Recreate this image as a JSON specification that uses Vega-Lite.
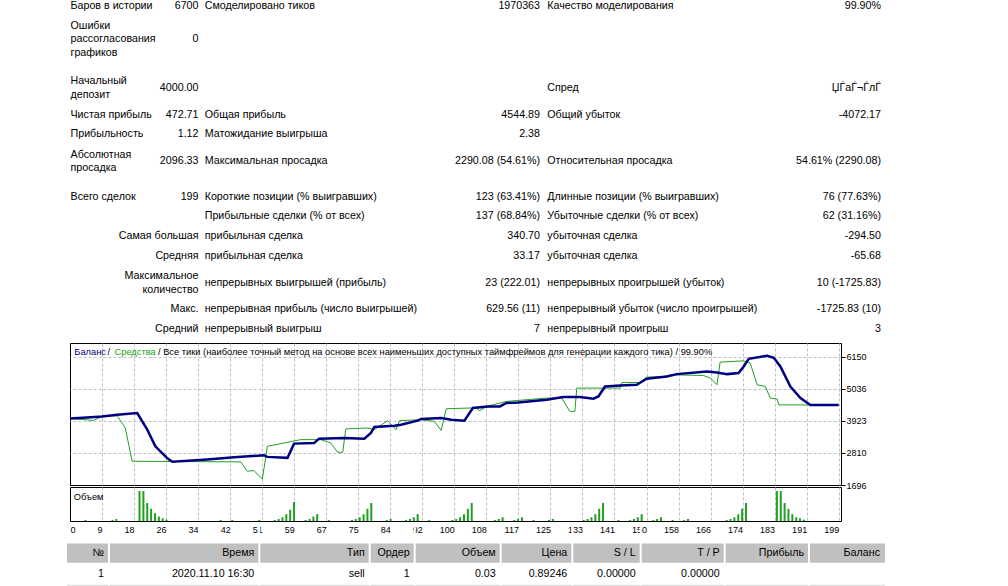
{
  "$schema": "https://vega.github.io/schema/vega-lite/v6.json",
  "background": "white",
  "padding": {"left": 64, "top": 0, "right": 0, "bottom": 0},
  "autosize": {"type": "pad"},
  "bounds": "flush",
  "spacing": 2,
  "config": {
    "font": "Liberation Sans",
    "view": {"stroke": null},
    "axis": {"labelFont": "Liberation Sans", "labelFontSize": 9, "labelColor": "#000000", "gridColor": "#c0c0c0", "gridDash": [3, 2], "gridWidth": 1, "domain": false, "ticks": false, "labelOverlap": false},
    "text": {"font": "Liberation Sans", "fontSize": 10.7, "color": "#000000", "baseline": "middle"}
  },
  "datasets": {
    "stats": [
      {"row": 1, "col": 1, "text": "Баров в истории"},
      {"row": 1, "col": 2, "text": "6700"},
      {"row": 1, "col": 3, "text": "Смоделировано тиков"},
      {"row": 1, "col": 4, "text": "1970363"},
      {"row": 1, "col": 5, "text": "Качество моделирования"},
      {"row": 1, "col": 6, "text": "99.90%"},
      {"row": 2, "col": 1, "text": "Ошибки\nрассогласования\nграфиков"},
      {"row": 2, "col": 2, "text": "0"},
      {"row": 3, "col": 1, "text": "Начальный\nдепозит"},
      {"row": 3, "col": 2, "text": "4000.00"},
      {"row": 3, "col": 5, "text": "Спред"},
      {"row": 3, "col": 6, "text": "ЏЃаЃ¬ЃлЃ"},
      {"row": 4, "col": 1, "text": "Чистая прибыль"},
      {"row": 4, "col": 2, "text": "472.71"},
      {"row": 4, "col": 3, "text": "Общая прибыль"},
      {"row": 4, "col": 4, "text": "4544.89"},
      {"row": 4, "col": 5, "text": "Общий убыток"},
      {"row": 4, "col": 6, "text": "-4072.17"},
      {"row": 5, "col": 1, "text": "Прибыльность"},
      {"row": 5, "col": 2, "text": "1.12"},
      {"row": 5, "col": 3, "text": "Матожидание выигрыша"},
      {"row": 5, "col": 4, "text": "2.38"},
      {"row": 6, "col": 1, "text": "Абсолютная\nпросадка"},
      {"row": 6, "col": 2, "text": "2096.33"},
      {"row": 6, "col": 3, "text": "Максимальная просадка"},
      {"row": 6, "col": 4, "text": "2290.08 (54.61%)"},
      {"row": 6, "col": 5, "text": "Относительная просадка"},
      {"row": 6, "col": 6, "text": "54.61% (2290.08)"},
      {"row": 7, "col": 1, "text": "Всего сделок"},
      {"row": 7, "col": 2, "text": "199"},
      {"row": 7, "col": 3, "text": "Короткие позиции (% выигравших)"},
      {"row": 7, "col": 4, "text": "123 (63.41%)"},
      {"row": 7, "col": 5, "text": "Длинные позиции (% выигравших)"},
      {"row": 7, "col": 6, "text": "76 (77.63%)"},
      {"row": 8, "col": 3, "text": "Прибыльные сделки (% от всех)"},
      {"row": 8, "col": 4, "text": "137 (68.84%)"},
      {"row": 8, "col": 5, "text": "Убыточные сделки (% от всех)"},
      {"row": 8, "col": 6, "text": "62 (31.16%)"},
      {"row": 9, "col": 2, "text": "Самая большая"},
      {"row": 9, "col": 3, "text": "прибыльная сделка"},
      {"row": 9, "col": 4, "text": "340.70"},
      {"row": 9, "col": 5, "text": "убыточная сделка"},
      {"row": 9, "col": 6, "text": "-294.50"},
      {"row": 10, "col": 2, "text": "Средняя"},
      {"row": 10, "col": 3, "text": "прибыльная сделка"},
      {"row": 10, "col": 4, "text": "33.17"},
      {"row": 10, "col": 5, "text": "убыточная сделка"},
      {"row": 10, "col": 6, "text": "-65.68"},
      {"row": 11, "col": 2, "text": "Максимальное\nколичество"},
      {"row": 11, "col": 3, "text": "непрерывных выигрышей (прибыль)"},
      {"row": 11, "col": 4, "text": "23 (222.01)"},
      {"row": 11, "col": 5, "text": "непрерывных проигрышей (убыток)"},
      {"row": 11, "col": 6, "text": "10 (-1725.83)"},
      {"row": 12, "col": 2, "text": "Макс."},
      {"row": 12, "col": 3, "text": "непрерывная прибыль (число выигрышей)"},
      {"row": 12, "col": 4, "text": "629.56 (11)"},
      {"row": 12, "col": 5, "text": "непрерывный убыток (число проигрышей)"},
      {"row": 12, "col": 6, "text": "-1725.83 (10)"},
      {"row": 13, "col": 2, "text": "Средний"},
      {"row": 13, "col": 3, "text": "непрерывный выигрыш"},
      {"row": 13, "col": 4, "text": "7"},
      {"row": 13, "col": 5, "text": "непрерывный проигрыш"},
      {"row": 13, "col": 6, "text": "3"}
    ],
    "curves": [
      {"series": "Средства", "trade": 0, "value": 4000},
      {"series": "Средства", "trade": 6.1, "value": 3937},
      {"series": "Средства", "trade": 8.3, "value": 4075},
      {"series": "Средства", "trade": 12.2, "value": 4099},
      {"series": "Средства", "trade": 14.3, "value": 3674},
      {"series": "Средства", "trade": 16.1, "value": 2519},
      {"series": "Средства", "trade": 44.2, "value": 2498},
      {"series": "Средства", "trade": 45.9, "value": 2173},
      {"series": "Средства", "trade": 47.6, "value": 2197},
      {"series": "Средства", "trade": 49.8, "value": 1903},
      {"series": "Средства", "trade": 51.1, "value": 3038},
      {"series": "Средства", "trade": 59.7, "value": 3269},
      {"series": "Средства", "trade": 64.9, "value": 3269},
      {"series": "Средства", "trade": 67.5, "value": 3155},
      {"series": "Средства", "trade": 69.3, "value": 2830},
      {"series": "Средства", "trade": 70.6, "value": 2830},
      {"series": "Средства", "trade": 71.4, "value": 3639},
      {"series": "Средства", "trade": 77.0, "value": 3674},
      {"series": "Средства", "trade": 78.8, "value": 3615},
      {"series": "Средства", "trade": 82.2, "value": 3926},
      {"series": "Средства", "trade": 84.4, "value": 3615},
      {"series": "Средства", "trade": 85.3, "value": 3926},
      {"series": "Средства", "trade": 90.9, "value": 3961},
      {"series": "Средства", "trade": 94.3, "value": 3902},
      {"series": "Средства", "trade": 96.1, "value": 3591},
      {"series": "Средства", "trade": 97.4, "value": 4341},
      {"series": "Средства", "trade": 103.8, "value": 4366},
      {"series": "Средства", "trade": 105.1, "value": 4366},
      {"series": "Средства", "trade": 106.1, "value": 4272},
      {"series": "Средства", "trade": 107.8, "value": 4421},
      {"series": "Средства", "trade": 113.0, "value": 4594},
      {"series": "Средства", "trade": 123.4, "value": 4711},
      {"series": "Средства", "trade": 127.3, "value": 4711},
      {"series": "Средства", "trade": 129.4, "value": 4248},
      {"series": "Средства", "trade": 130.7, "value": 4248},
      {"series": "Средства", "trade": 131.2, "value": 5057},
      {"series": "Средства", "trade": 142.4, "value": 5057},
      {"series": "Средства", "trade": 142.9, "value": 5251},
      {"series": "Средства", "trade": 147.6, "value": 5251},
      {"series": "Средства", "trade": 149.3, "value": 5437},
      {"series": "Средства", "trade": 153.6, "value": 5458},
      {"series": "Средства", "trade": 156.2, "value": 5517},
      {"series": "Средства", "trade": 164.0, "value": 5493},
      {"series": "Средства", "trade": 165.8, "value": 5403},
      {"series": "Средства", "trade": 167.5, "value": 5171},
      {"series": "Средства", "trade": 168.3, "value": 5956},
      {"series": "Средства", "trade": 174.4, "value": 6001},
      {"series": "Средства", "trade": 176.1, "value": 5922},
      {"series": "Средства", "trade": 177.9, "value": 5171},
      {"series": "Средства", "trade": 180.0, "value": 5113},
      {"series": "Средства", "trade": 181.3, "value": 4711},
      {"series": "Средства", "trade": 183.1, "value": 4677},
      {"series": "Средства", "trade": 183.5, "value": 4473},
      {"series": "Средства", "trade": 199, "value": 4473},
      {"series": "Баланс", "trade": 0, "value": 4000},
      {"series": "Баланс", "trade": 4.4, "value": 4040},
      {"series": "Баланс", "trade": 8.3, "value": 4075},
      {"series": "Баланс", "trade": 12.2, "value": 4134},
      {"series": "Баланс", "trade": 17.4, "value": 4193},
      {"series": "Баланс", "trade": 20.0, "value": 3615},
      {"series": "Баланс", "trade": 22.1, "value": 3038},
      {"series": "Баланс", "trade": 25.2, "value": 2620},
      {"series": "Баланс", "trade": 26.5, "value": 2500},
      {"series": "Баланс", "trade": 35.5, "value": 2578},
      {"series": "Баланс", "trade": 42.5, "value": 2657},
      {"series": "Баланс", "trade": 50.2, "value": 2727},
      {"series": "Баланс", "trade": 51.1, "value": 2671},
      {"series": "Баланс", "trade": 56.3, "value": 2637},
      {"series": "Баланс", "trade": 58.0, "value": 3131},
      {"series": "Баланс", "trade": 63.2, "value": 3155},
      {"series": "Баланс", "trade": 64.5, "value": 3304},
      {"series": "Баланс", "trade": 71.0, "value": 3328},
      {"series": "Баланс", "trade": 76.2, "value": 3304},
      {"series": "Баланс", "trade": 77.9, "value": 3501},
      {"series": "Баланс", "trade": 78.8, "value": 3709},
      {"series": "Баланс", "trade": 84.0, "value": 3754},
      {"series": "Баланс", "trade": 85.7, "value": 3788},
      {"series": "Баланс", "trade": 90.0, "value": 3926},
      {"series": "Баланс", "trade": 90.9, "value": 3985},
      {"series": "Баланс", "trade": 96.1, "value": 4020},
      {"series": "Баланс", "trade": 98.7, "value": 3961},
      {"series": "Баланс", "trade": 102.1, "value": 3926},
      {"series": "Баланс", "trade": 104.3, "value": 4366},
      {"series": "Баланс", "trade": 108.2, "value": 4421},
      {"series": "Баланс", "trade": 111.3, "value": 4421},
      {"series": "Баланс", "trade": 113.0, "value": 4539},
      {"series": "Баланс", "trade": 116.0, "value": 4559},
      {"series": "Баланс", "trade": 123.4, "value": 4653},
      {"series": "Баланс", "trade": 127.7, "value": 4746},
      {"series": "Баланс", "trade": 132.0, "value": 4746},
      {"series": "Баланс", "trade": 135.5, "value": 4687},
      {"series": "Баланс", "trade": 136.8, "value": 4767},
      {"series": "Баланс", "trade": 138.5, "value": 5113},
      {"series": "Баланс", "trade": 142.4, "value": 5147},
      {"series": "Баланс", "trade": 146.7, "value": 5171},
      {"series": "Баланс", "trade": 149.3, "value": 5379},
      {"series": "Баланс", "trade": 154.5, "value": 5458},
      {"series": "Баланс", "trade": 157.1, "value": 5541},
      {"series": "Баланс", "trade": 164.9, "value": 5631},
      {"series": "Баланс", "trade": 167.5, "value": 5597},
      {"series": "Баланс", "trade": 170.1, "value": 5541},
      {"series": "Баланс", "trade": 173.1, "value": 5576},
      {"series": "Баланс", "trade": 174.4, "value": 5804},
      {"series": "Баланс", "trade": 175.7, "value": 6070},
      {"series": "Баланс", "trade": 180.5, "value": 6180},
      {"series": "Баланс", "trade": 182.2, "value": 6110},
      {"series": "Баланс", "trade": 183.9, "value": 5804},
      {"series": "Баланс", "trade": 186.5, "value": 5113},
      {"series": "Баланс", "trade": 189.1, "value": 4711},
      {"series": "Баланс", "trade": 191.7, "value": 4473},
      {"series": "Баланс", "trade": 199, "value": 4473}
    ],
    "volumes": [
      {"trade": 4, "lots": 0.03},
      {"trade": 11, "lots": 0.03}, {"trade": 12, "lots": 0.06},
      {"trade": 18, "lots": 0.88}, {"trade": 19, "lots": 0.88}, {"trade": 20, "lots": 0.53}, {"trade": 21, "lots": 0.36}, {"trade": 22, "lots": 0.23}, {"trade": 23, "lots": 0.13}, {"trade": 24, "lots": 0.08}, {"trade": 25, "lots": 0.04},
      {"trade": 39, "lots": 0.03}, {"trade": 42, "lots": 0.03},
      {"trade": 49, "lots": 0.03},
      {"trade": 53, "lots": 0.03}, {"trade": 54, "lots": 0.06}, {"trade": 55, "lots": 0.11}, {"trade": 56, "lots": 0.2}, {"trade": 57, "lots": 0.33}, {"trade": 58, "lots": 0.56},
      {"trade": 61, "lots": 0.03}, {"trade": 62, "lots": 0.06}, {"trade": 63, "lots": 0.13}, {"trade": 64, "lots": 0.2},
      {"trade": 67, "lots": 0.03},
      {"trade": 73, "lots": 0.03}, {"trade": 74, "lots": 0.06}, {"trade": 75, "lots": 0.11}, {"trade": 76, "lots": 0.2}, {"trade": 77, "lots": 0.36}, {"trade": 78, "lots": 0.53},
      {"trade": 82, "lots": 0.03}, {"trade": 83, "lots": 0.06},
      {"trade": 87, "lots": 0.03}, {"trade": 88, "lots": 0.06}, {"trade": 89, "lots": 0.11}, {"trade": 90, "lots": 0.2},
      {"trade": 93, "lots": 0.03},
      {"trade": 99, "lots": 0.03}, {"trade": 100, "lots": 0.06}, {"trade": 101, "lots": 0.11}, {"trade": 102, "lots": 0.2}, {"trade": 103, "lots": 0.36}, {"trade": 104, "lots": 0.53},
      {"trade": 110, "lots": 0.03}, {"trade": 111, "lots": 0.06}, {"trade": 112, "lots": 0.11},
      {"trade": 115, "lots": 0.03}, {"trade": 116, "lots": 0.06}, {"trade": 117, "lots": 0.11},
      {"trade": 120, "lots": 0.03},
      {"trade": 124, "lots": 0.03}, {"trade": 125, "lots": 0.06},
      {"trade": 133, "lots": 0.03}, {"trade": 134, "lots": 0.06}, {"trade": 135, "lots": 0.11}, {"trade": 136, "lots": 0.2}, {"trade": 137, "lots": 0.36}, {"trade": 138, "lots": 0.53},
      {"trade": 142, "lots": 0.03},
      {"trade": 145, "lots": 0.03}, {"trade": 146, "lots": 0.06}, {"trade": 147, "lots": 0.11}, {"trade": 148, "lots": 0.2},
      {"trade": 151, "lots": 0.03}, {"trade": 152, "lots": 0.06}, {"trade": 153, "lots": 0.11},
      {"trade": 156, "lots": 0.03}, {"trade": 159, "lots": 0.03}, {"trade": 160, "lots": 0.06},
      {"trade": 170, "lots": 0.03}, {"trade": 171, "lots": 0.06}, {"trade": 172, "lots": 0.11}, {"trade": 173, "lots": 0.2}, {"trade": 174, "lots": 0.36}, {"trade": 175, "lots": 0.53},
      {"trade": 183, "lots": 0.88}, {"trade": 184, "lots": 0.88}, {"trade": 185, "lots": 0.53}, {"trade": 186, "lots": 0.36}, {"trade": 187, "lots": 0.2}, {"trade": 188, "lots": 0.11}, {"trade": 189, "lots": 0.08}, {"trade": 190, "lots": 0.04}
    ],
    "trades": [
      {"row": "header", "col": 1, "text": "№"},
      {"row": "header", "col": 2, "text": "Время"},
      {"row": "header", "col": 3, "text": "Тип"},
      {"row": "header", "col": 4, "text": "Ордер"},
      {"row": "header", "col": 5, "text": "Объем"},
      {"row": "header", "col": 6, "text": "Цена"},
      {"row": "header", "col": 7, "text": "S / L"},
      {"row": "header", "col": 8, "text": "T / P"},
      {"row": "header", "col": 9, "text": "Прибыль"},
      {"row": "header", "col": 10, "text": "Баланс"},
      {"row": "1", "col": 1, "text": "1"},
      {"row": "1", "col": 2, "text": "2020.11.10 16:30"},
      {"row": "1", "col": 3, "text": "sell"},
      {"row": "1", "col": 4, "text": "1"},
      {"row": "1", "col": 5, "text": "0.03"},
      {"row": "1", "col": 6, "text": "0.89246"},
      {"row": "1", "col": 7, "text": "0.00000"},
      {"row": "1", "col": 8, "text": "0.00000"}
    ],
    "bands": [
      {"row": "header", "from": 0, "to": 10},
      {"row": "2", "from": 0, "to": 10}
    ]
  },
  "vconcat": [
    {
      "width": 812,
      "height": 341,
      "data": {"name": "stats"},
      "encoding": {
        "x": {"field": "col", "type": "quantitative", "scale": {"domain": [1, 2, 3, 4, 5, 6], "range": [0.5, 128.5, 134.7, 470, 477.3, 811], "nice": false, "zero": false}, "axis": null},
        "y": {"field": "row", "type": "quantitative", "scale": {"domain": [1, 2, 3, 4, 5, 6, 7, 8, 9, 10, 11, 12, 13], "range": [6, 39.3, 88.2, 115, 134.3, 161.3, 196.7, 216, 236, 256, 282.8, 309.3, 329.3], "nice": false, "zero": false}, "axis": null},
        "text": {"field": "text", "type": "nominal"}
      },
      "layer": [
        {"transform": [{"filter": "datum.col % 2 == 1 && length(split(datum.text, '\\n')) == 1"}], "mark": {"type": "text", "align": "left", "lineBreak": "\n", "lineHeight": 13.5}},
        {"transform": [{"filter": "datum.col % 2 == 1 && length(split(datum.text, '\\n')) == 2"}], "mark": {"type": "text", "align": "left", "lineBreak": "\n", "lineHeight": 13.5, "dy": -6.75}},
        {"transform": [{"filter": "datum.col % 2 == 1 && length(split(datum.text, '\\n')) == 3"}], "mark": {"type": "text", "align": "left", "lineBreak": "\n", "lineHeight": 13.5, "dy": -13.5}},
        {"transform": [{"filter": "datum.col % 2 == 0 && length(split(datum.text, '\\n')) == 1"}], "mark": {"type": "text", "align": "right", "lineBreak": "\n", "lineHeight": 13.5}},
        {"transform": [{"filter": "datum.col % 2 == 0 && length(split(datum.text, '\\n')) == 2"}], "mark": {"type": "text", "align": "right", "lineBreak": "\n", "lineHeight": 13.5, "dy": -6.75}}
      ]
    },
    {
      "width": 771,
      "height": 142,
      "view": {"stroke": "#000000", "strokeWidth": 1},
      "layer": [
        {
          "data": {"name": "curves"},
          "transform": [{"filter": "datum.series == 'Средства'"}],
          "mark": {"type": "line", "color": "#20a020", "strokeWidth": 1},
          "encoding": {
            "x": {"field": "trade", "type": "quantitative", "scale": {"domain": [0, 199.6], "nice": false, "zero": false},
              "axis": {"values": [0, 8.2917, 16.5833, 24.875, 33.1667, 41.4583, 49.75, 58.0417, 66.3333, 74.625, 82.9167, 91.2083, 99.5, 107.7917, 116.0833, 124.375, 132.6667, 140.9583, 149.25, 157.5417, 165.8333, 174.125, 182.4167, 190.7083, 199], "tickCount": 40, "grid": true, "labels": false, "ticks": false, "domain": false, "title": null, "gridOpacity": {"condition": {"test": "datum.value == 0", "value": 0}, "value": 1}}},
            "y": {"field": "value", "type": "quantitative", "scale": {"domain": [1696, 6620], "nice": false, "zero": false},
              "axis": {"orient": "right", "values": [1696, 2810, 3923, 5036, 6150], "tickCount": 10, "format": "d", "grid": true, "ticks": true, "tickSize": 4, "tickColor": "#000000", "labelPadding": 1, "labelOverlap": false, "labelFlush": false, "title": null, "gridOpacity": {"condition": {"test": "datum.value == 1696", "value": 0}, "value": 1}}}
          }
        },
        {
          "data": {"name": "curves"},
          "transform": [{"filter": "datum.series == 'Баланс'"}],
          "mark": {"type": "line", "color": "#000080", "strokeWidth": 2.5},
          "encoding": {
            "x": {"field": "trade", "type": "quantitative"},
            "y": {"field": "value", "type": "quantitative"}
          }
        },
        {
          "data": {"values": [{"label": "Баланс"}]},
          "mark": {"type": "text", "align": "left", "fontSize": 9.3, "color": "#000080"},
          "encoding": {"text": {"field": "label"}, "x": {"datum": 1.11}, "y": {"datum": 6308}}
        },
        {
          "data": {"values": [{"label": "/"}]},
          "mark": {"type": "text", "align": "left", "fontSize": 9.3, "color": "#000000"},
          "encoding": {"text": {"field": "label"}, "x": {"datum": 9.71}, "y": {"datum": 6308}}
        },
        {
          "data": {"values": [{"label": "Средства"}]},
          "mark": {"type": "text", "align": "left", "fontSize": 9.3, "color": "#20a020"},
          "encoding": {"text": {"field": "label"}, "x": {"datum": 11.52}, "y": {"datum": 6308}}
        },
        {
          "data": {"values": [{"label": "/ Все тики (наиболее точный метод на основе всех наименьших доступных таймфреймов для генерации каждого тика) / 99.90%"}]},
          "mark": {"type": "text", "align": "left", "fontSize": 9.3, "color": "#000000"},
          "encoding": {"text": {"field": "label"}, "x": {"datum": 22.78}, "y": {"datum": 6308}}
        }
      ]
    },
    {
      "width": 771,
      "height": 34,
      "view": {"stroke": "#000000", "strokeWidth": 1},
      "layer": [
        {
          "data": {"name": "volumes"},
          "mark": {"type": "rule", "color": "#20a020", "strokeWidth": 2},
          "encoding": {
            "x": {"field": "trade", "type": "quantitative", "scale": {"domain": [0, 199.6], "nice": false, "zero": false},
              "axis": {"values": [0, 8.2917, 16.5833, 24.875, 33.1667, 41.4583, 49.75, 58.0417, 66.3333, 74.625, 82.9167, 91.2083, 99.5, 107.7917, 116.0833, 124.375, 132.6667, 140.9583, 149.25, 157.5417, 165.8333, 174.125, 182.4167, 190.7083, 199], "tickCount": 40, "grid": true, "labels": true, "ticks": false, "domain": false, "title": null, "labelExpr": "['0','9','18','26','34','42','51','59','67','75','84','92','100','108','117','125','133','141','150','158','166','174','183','191','199'][round(datum.value * 24 / 199)]", "labelAlign": {"condition": {"test": "datum.value == 0", "value": "left"}, "value": "right"}, "labelPadding": 4, "labelBaseline": "top", "labelOverlap": false, "labelFlush": false, "gridOpacity": {"condition": {"test": "datum.value == 0", "value": 0}, "value": 1}}},
            "y": {"field": "lots", "type": "quantitative", "scale": {"domain": [0, 1], "nice": false, "zero": false}, "axis": null},
            "y2": {"datum": 0}
          }
        },
        {
          "data": {"values": [{"label": "Объем"}]},
          "mark": {"type": "text", "align": "left", "fontSize": 9.3, "color": "#000000"},
          "encoding": {"text": {"field": "label"}, "x": {"datum": 1.0}, "y": {"datum": 0.706}}
        }
      ]
    },
    {
      "width": 814,
      "height": 62.5,
      "layer": [
        {
          "data": {"name": "bands"},
          "mark": {"type": "rect"},
          "encoding": {
            "x": {"field": "from", "type": "quantitative", "scale": {"domain": [0, 1, 2, 3, 4, 5, 6, 7, 8, 9, 10], "range": [-3, 39, 189.3, 299.7, 344.7, 430.7, 502.3, 570.7, 654.7, 739, 815], "nice": false, "zero": false}, "axis": null},
            "x2": {"field": "to"},
            "y": {"field": "row", "type": "nominal", "scale": {"type": "band", "domain": ["header", "1", "2"], "range": [20.5, 80.9], "paddingInner": 0.07, "paddingOuter": 0}, "axis": null},
            "color": {"field": "row", "type": "nominal", "scale": {"domain": ["header", "2"], "range": ["#c0c0c0", "#e0e0e0"]}, "legend": null}
          }
        },
        {
          "data": {"name": "trades"},
          "transform": [{"filter": "datum.row == 'header' && datum.col < 10"}],
          "mark": {"type": "rule", "color": "#ffffff", "strokeWidth": 2},
          "encoding": {"x": {"field": "col", "type": "quantitative"}}
        },
        {
          "data": {"name": "trades"},
          "mark": {"type": "text", "align": "right", "dx": -5},
          "encoding": {
            "x": {"field": "col", "type": "quantitative"},
            "y": {"field": "row", "type": "nominal", "bandPosition": 0.5},
            "text": {"field": "text", "type": "nominal"}
          }
        }
      ]
    }
  ]
}
